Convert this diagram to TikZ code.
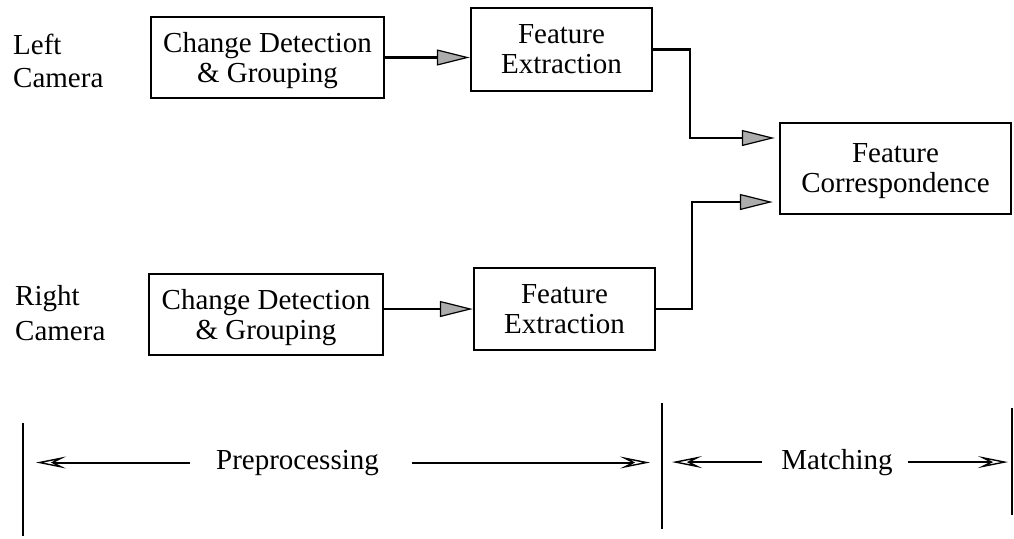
\documentclass[tikz,border=0pt]{standalone}
\usepackage{fontspec}
\setmainfont{Liberation Serif}
\usetikzlibrary{arrows.meta,calc}
\begin{document}
\begin{tikzpicture}[x=1pt,y=-1pt,
  every node/.style={font=\fontsize{29}{30}\selectfont},
  procbox/.style={draw,line width=2.4pt,align=center,inner sep=0pt,text depth=0pt},
  camlabel/.style={align=left,inner sep=0pt,anchor=west,text depth=0pt},
  flowarrow/.style={line width=2.2pt,-{Triangle[length=33pt,width=16pt,fill=gray!65,line width=1.2pt]}},
  spanarrow/.style={line width=2pt,-{Stealth[open,length=30pt,width=12pt,inset=12pt,line width=1.4pt]}},
  divider/.style={line width=2.4pt}]
\useasboundingbox (0,0) rectangle (1014,538);

% camera labels
\node[camlabel,font=\fontsize{29}{33}\selectfont] (lcam) at (13,60.6) {Left\\Camera};
\node[camlabel,font=\fontsize{29}{35}\selectfont] (rcam) at (15,312.6) {Right\\Camera};

% processing stages
\node[procbox,minimum width=233pt,minimum height=81pt] (cd1) at (267.5,57.5) {Change Detection\\\& Grouping};
\node[procbox,minimum width=181pt,minimum height=83pt] (fe1) at (561.5,49.5) {Feature\\Extraction};
\node[procbox,minimum width=234pt,minimum height=81pt] (cd2) at (266,314.5) {Change Detection\\\& Grouping};
\node[procbox,minimum width=181pt,minimum height=82pt] (fe2) at (564.5,309) {Feature\\Extraction};
\node[procbox,minimum width=231pt,minimum height=91pt] (fc) at (895.5,168.5) {Feature\\Correspondence};

% data flow
\draw[flowarrow] (cd1.east) -- (cd1.east -| fe1.west);
\draw[flowarrow] (fe2.west -| cd2.east) -- (fe2.west);
\draw[flowarrow,shorten >=4pt] (fe1.east) -- ++(37,0) |- ($(fc.west)+(0,-30.5)$);
\draw[flowarrow,shorten >=6pt] (fe2.east) -- ++(36,0) |- ($(fc.west)+(0,33.5)$);

% phase dividers
\coordinate (b1t) at (23,423);  \coordinate (b1b) at (23,536);
\coordinate (b2t) at (662,403); \coordinate (b2b) at (662,529);
\coordinate (b3t) at (1012,408); \coordinate (b3b) at (1012,515);
\draw[divider] (b1t) -- (b1b);
\draw[divider] (b2t) -- (b2b);
\draw[divider] (b3t) -- (b3b);

% phase labels
\node[inner sep=0pt,anchor=base] (pre) at (297.5,469) {Preprocessing};
\node[inner sep=0pt,anchor=base] (mat) at (837,469) {Matching};
\draw[spanarrow,shorten >=13pt] ([xshift=-26pt]pre.west) -- (pre.west -| b1t);
\draw[spanarrow,shorten >=12pt] ([xshift=33pt]pre.east) -- (pre.east -| b2t);
\draw[spanarrow,shorten >=10pt] ([xshift=-19pt]mat.west) -- (mat.west -| b2t);
\draw[spanarrow,shorten >=4pt] ([xshift=15pt]mat.east) -- (mat.east -| b3t);
\end{tikzpicture}
\end{document}
